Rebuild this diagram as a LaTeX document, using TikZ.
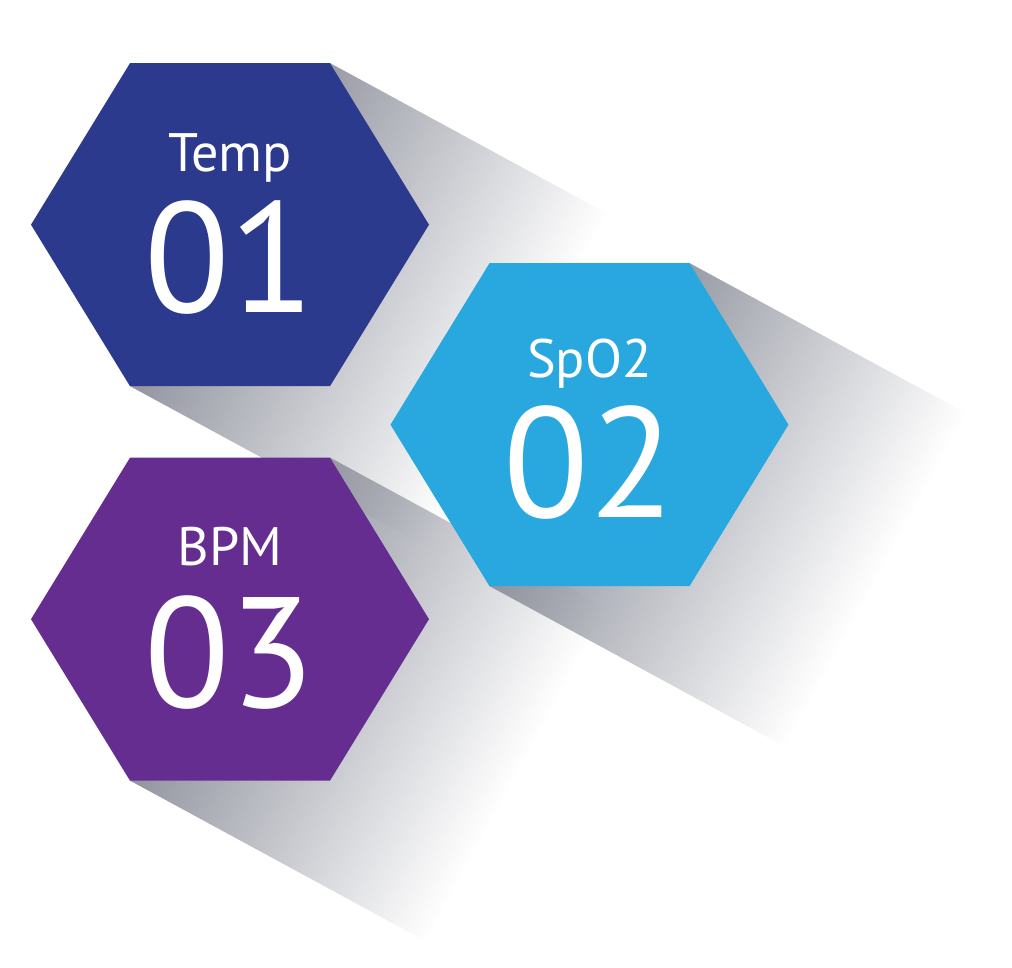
\documentclass[tikz,border=0pt]{standalone}
\usepackage{fontspec}
\setmainfont{PT Sans}
\usetikzlibrary{fadings}
\definecolor{deepblue}{HTML}{2C3A8E}
\definecolor{skyblue}{HTML}{29A8E0}
\definecolor{grape}{HTML}{652D90}
\definecolor{shadowgrey}{HTML}{9295A0}
\tikzfading[name=longshadow, left color=transparent!0, right color=transparent!100]
\tikzset{
  hexpath/.style={insert path={++(-1.99,0) -- ++(0.99,1.615) -- ++(2,0) -- ++(0.99,-1.615)
                               -- ++(-0.99,-1.615) -- ++(-2,0) -- cycle}},
  % shadow strip, drawn in a frame turned along the light
  shadowpath/.style={insert path={(0.108,1.8965) -- (3.25,1.8965) -- (3.25,-1.8965) -- (-0.108,-1.8965) -- cycle}},
  shadowfill/.style={fill=shadowgrey, path fading=longshadow},
  tag/.style={text=white, anchor=base, inner sep=0pt, font=\fontsize{15.4}{18}\selectfont},
  num/.style={text=white, anchor=base, inner sep=0pt, font=\fontsize{44.7}{50}\selectfont},
}

\begin{document}
\begin{tikzpicture}
    \useasboundingbox (0,0) rectangle (10.12,-9.68);
    \fill[white] (0,0) rectangle (10.12,-9.68);

    \coordinate (c1) at (2.30,-2.247);
    \coordinate (c2) at (5.895,-4.247);
    \coordinate (c3) at (2.30,-6.192);

    % long shadows
    \begin{scope}[transform canvas={shift={(2.30,-2.247)}, rotate=-28.5}]
      \fill[shadowfill] [shadowpath];
    \end{scope}
    \begin{scope}[transform canvas={shift={(2.30,-6.192)}, rotate=-28.5}]
      \fill[shadowfill] [shadowpath];
    \end{scope}
    \begin{scope}[transform canvas={shift={(5.895,-4.247)}, rotate=-28.5}]
      \fill[shadowfill] [shadowpath];
    \end{scope}

    % hexagons
    \fill[deepblue] (c1) [hexpath];
    \fill[grape]    (c3) [hexpath];
    \fill[skyblue]  (c2) [hexpath];

    \node[tag] (temp) at (2.30,-1.72) {Temp};
    \node[num] (n1)   at (2.30,-3.13) {01};
    \node[tag] (spo)  at (5.895,-3.78) {SpO2};
    \node[num] (n2)   at (5.895,-5.18) {02};
    \node[tag] (bpm)  at (2.30,-5.66) {BPM};
    \node[num] (n3)   at (2.30,-7.08) {03};
\end{tikzpicture}
\end{document}
